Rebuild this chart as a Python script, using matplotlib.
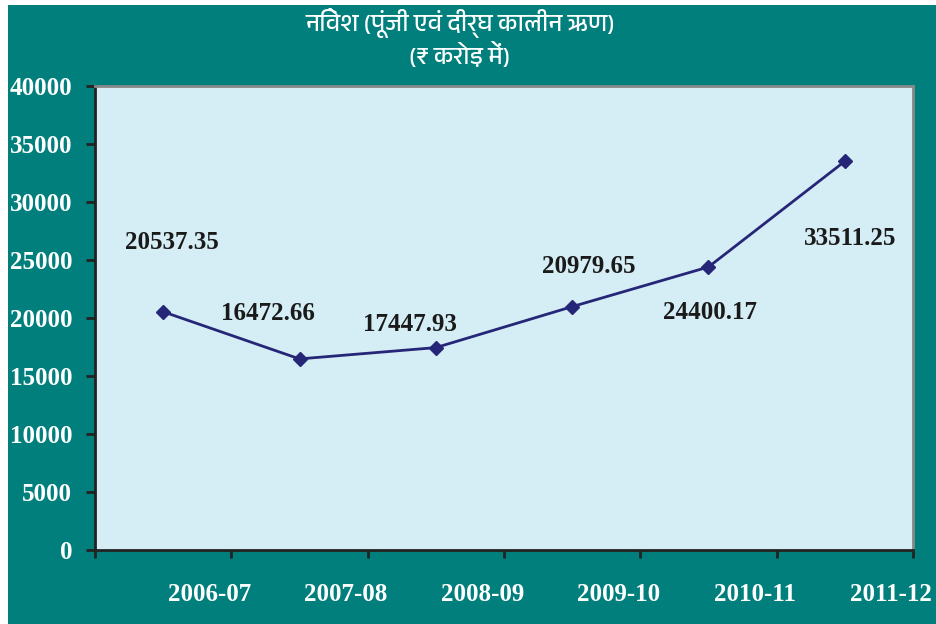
#!/usr/bin/env python3
import matplotlib
matplotlib.use("Agg")
import matplotlib.pyplot as plt
from matplotlib import font_manager
from matplotlib.patches import Rectangle

# — DATA —
YEARS  = ["2006-07", "2007-08", "2008-09", "2009-10", "2010-11", "2011-12"]
VALUES = [20537.35, 16472.66, 17447.93, 20979.65, 24400.17, 33511.25]
TITLE  = "निवेश (पूंजी एवं दीर्घ कालीन ऋण)\n(₹ करोड़ में)"

# label offsets from each point, in pixels (dx, dy)
LABEL_OFFSETS = [(9, 69), (-32, 45), (-26, 23), (17, 40), (2, -46), (5, -77)]

TEAL    = "#007f7d"
PANEL   = "#d5eef5"
NAVY    = "#262678"
SERIF   = "Liberation Serif"

# look for a font with Devanagari glyphs, fall back to DejaVu
deva = [f.name for f in font_manager.fontManager.ttflist
        if any(k in f.name for k in ("Devanagari", "Lohit", "Mukta", "Hind", "Mangal", "Gargi", "Kalimati"))]
title_fonts = sorted(set(deva)) + ["DejaVu Sans"]

fig = plt.figure(figsize=(9.36, 6.24), dpi=100, facecolor="white")
fig.patches.append(Rectangle((8 / 936, 0), 1, 1 - 5 / 624, transform=fig.transFigure,
                             facecolor=TEAL, edgecolor="none", zorder=-10))

ax = fig.add_axes([95 / 936, 74 / 624, 818 / 936, 464 / 624])
ax.set_zorder(1)
ax.set_facecolor(PANEL)

x = list(range(len(VALUES)))
ax.plot(x, VALUES, color=NAVY, lw=2, marker="D", ms=7.5, mfc=NAVY, mec=NAVY)

for i, (v, (dx, dy)) in enumerate(zip(VALUES, LABEL_OFFSETS)):
    ax.annotate(f"{v:.2f}", (i, v), xytext=(dx, dy), textcoords="offset pixels",
                ha="center", va="center", fontsize=18, fontweight="bold",
                family=SERIF, color="#1a1a1a")

ax.set_xlim(-0.5, len(VALUES) - 0.5)
ax.set_ylim(0, 40000)
ax.set_yticks(range(0, 40001, 5000))

# category boundaries as major ticks, labels on minor ticks (shifted like the original)
ax.set_xticks([i - 0.5 for i in range(len(VALUES) + 1)])
ax.set_xticklabels([])
ax.set_xticks([i + 0.34 for i in x], minor=True)
ax.set_xticklabels(YEARS, minor=True)

ax.tick_params(axis="x", which="major", direction="out", length=6, width=2, color="#222222")
ax.tick_params(axis="x", which="minor", length=0, pad=24, labelsize=18, labelcolor="white")
ax.tick_params(axis="y", direction="out", length=6.5, width=2, color="#222222",
               pad=10, labelsize=18, labelcolor="white")
for lab in ax.get_xticklabels(minor=True) + ax.get_yticklabels():
    lab.set_fontfamily(SERIF)
    lab.set_fontweight("bold")

for side in ("left", "bottom"):
    ax.spines[side].set_color("#222222")
    ax.spines[side].set_linewidth(2)
for side in ("top", "right"):
    ax.spines[side].set_color("#888888")
    ax.spines[side].set_linewidth(2)

fig.text(460 / 936, 1 - 38 / 624, TITLE, ha="center", va="center", color="white",
         fontsize=17.5, family=title_fonts, linespacing=1.2)

fig.savefig("out.png", dpi=100, facecolor=fig.get_facecolor())
